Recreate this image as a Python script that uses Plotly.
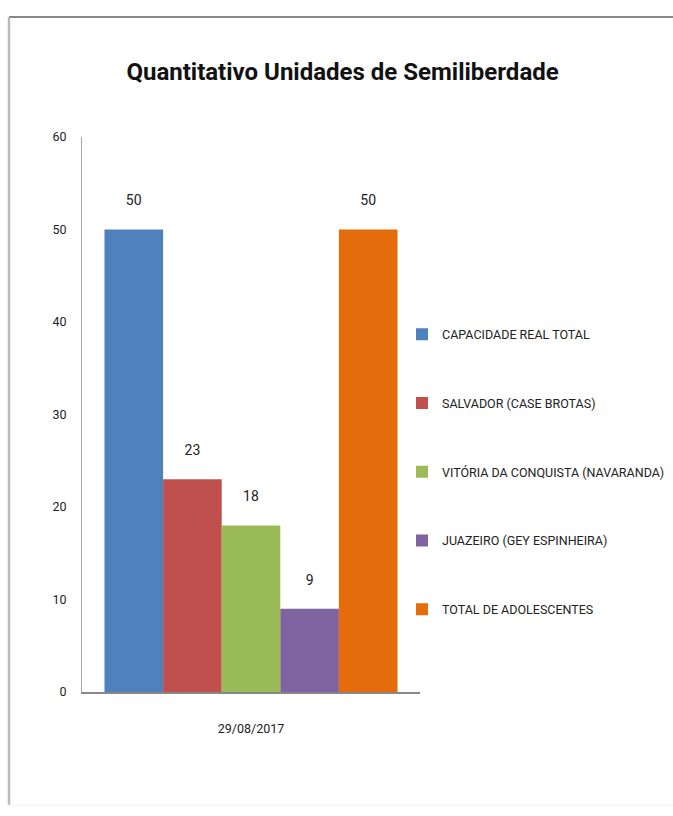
import plotly.graph_objects as go

categories = ["29/08/2017"]
series_names = [
    "CAPACIDADE REAL TOTAL",
    "SALVADOR (CASE BROTAS)",
    "VITÓRIA DA CONQUISTA (NAVARANDA)",
    "JUAZEIRO (GEY ESPINHEIRA)",
    "TOTAL DE ADOLESCENTES",
]
series_values = [50, 23, 18, 9, 50]
colors = ["#4F81BD", "#C0504D", "#9BBB59", "#8064A2", "#E46C0A"]
y_ticks = [0, 10, 20, 30, 40, 50, 60]

FONT = "Roboto, Liberation Sans, sans-serif"

# plot area in pixels
L, R, T, B = 82, 420, 137, 692
W, H = R - L, B - T

fig = go.Figure()
for i, (name, val, col) in enumerate(zip(series_names, series_values, colors)):
    fig.add_trace(go.Bar(
        x=categories, y=[val], name=name, marker_color=col,
        marker_line_width=0,
        text=[val], texttemplate="%{y}<br> ", textposition="outside",
        textfont=dict(size=14, color="#222", family=FONT),
        cliponaxis=False, legendgroup=f"g{i}",
    ))

fig.update_layout(
    width=673, height=816,
    margin=dict(l=L, r=673 - R, t=T, b=816 - B, autoexpand=False),
    paper_bgcolor="white", plot_bgcolor="white",
    barmode="group", bargap=0.133, bargroupgap=0,
    title=dict(text="<b>Quantitativo Unidades de Semiliberdade</b>",
               x=0.509, xanchor="center", y=1 - 72 / 816, yanchor="middle",
               font=dict(size=24, color="#111", family=FONT)),
    font=dict(family=FONT, color="#222", size=13),
    showlegend=True,
    legend=dict(x=(402 - L) / W, y=(B - 319.5) / H, xanchor="left", yanchor="top",
                font=dict(size=12.5, color="#222", family=FONT),
                tracegroupgap=49.5, itemwidth=30, bgcolor="rgba(0,0,0,0)"),
    xaxis=dict(showline=True, linecolor="#888", linewidth=1.5,
               showgrid=False, ticks="", ticklabelstandoff=24,
               tickfont=dict(size=12.5, color="#222", family=FONT)),
    yaxis=dict(range=[0, 60], tickvals=y_ticks, showline=True,
               linecolor="#aaa", linewidth=1, showgrid=False, ticks="",
               zeroline=False, ticklabelstandoff=12,
               tickfont=dict(size=12.5, color="#222", family=FONT)),
)

# outer frame
def px_x(v):
    return (v - L) / W

def px_y(v):
    return (B - v) / H

fig.add_shape(type="line", xref="paper", yref="paper",
              x0=px_x(9), x1=px_x(673), y0=px_y(17), y1=px_y(17),
              line=dict(color="#888", width=2))
fig.add_shape(type="line", xref="paper", yref="paper",
              x0=px_x(9), x1=px_x(9), y0=px_y(17), y1=px_y(805),
              line=dict(color="#bbb", width=2.5))
fig.add_shape(type="line", xref="paper", yref="paper",
              x0=px_x(9), x1=px_x(673), y0=px_y(805), y1=px_y(805),
              line=dict(color="#eee", width=1))

fig.write_html("out.html")
